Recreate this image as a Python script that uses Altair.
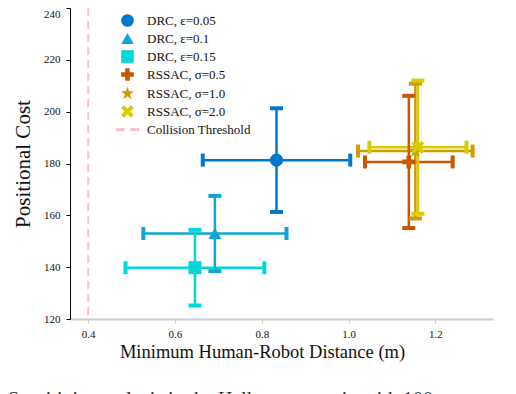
import altair as alt
import pandas as pd

# ---- data ----
series = ["DRC, ε=0.05", "DRC, ε=0.1", "DRC, ε=0.15",
          "RSSAC, σ=0.5", "RSSAC, σ=1.0", "RSSAC, σ=2.0"]
x_mean = [0.834, 0.692, 0.646, 1.139, 1.154, 1.160]
x_err = [0.170, 0.165, 0.160, 0.101, 0.132, 0.112]
y_mean = [181.3, 153.0, 139.8, 180.6, 184.8, 186.3]
y_err = [20.0, 14.5, 14.6, 25.5, 26.0, 25.7]
colors = ["#0077cc", "#11a6cf", "#00d9d9", "#cc5500", "#d09a00", "#d6cc00"]
threshold_label = "Collision Threshold"
threshold_x = [0.4]
threshold_color = "#ffc0cb"
x_ticks = [0.4, 0.6, 0.8, 1.0, 1.2]
y_ticks = [120, 140, 160, 180, 200, 220, 240]
caption = ["Sensitivity analysis in the Hallway scenario with 100"]

PLUS = "M-0.36,-1H0.36V-0.36H1V0.36H0.36V1H-0.36V0.36H-1V-0.36H-0.36Z"
STAR = ("M0,-1.1L0.25,-0.34L1.05,-0.34L0.4,0.13L0.65,0.9L0,0.42"
        "L-0.65,0.9L-0.4,0.13L-1.05,-0.34L-0.25,-0.34Z")
XSHAPE = ("M-1,-0.55L-0.55,-1L0,-0.45L0.55,-1L1,-0.55L0.45,0L1,0.55"
          "L0.55,1L0,0.45L-0.55,1L-1,0.55L-0.45,0Z")
DASH = "M-1.85,-0.22H-0.45V0.22H-1.85Z M0.45,-0.22H1.85V0.22H0.45Z"
shapes = ["circle", "triangle-up", "square", PLUS, STAR, XSHAPE, DASH]

df = pd.DataFrame({
    "series": series, "x": x_mean, "y": y_mean,
    "xlo": [m - e for m, e in zip(x_mean, x_err)],
    "xhi": [m + e for m, e in zip(x_mean, x_err)],
    "ylo": [m - e for m, e in zip(y_mean, y_err)],
    "yhi": [m + e for m, e in zip(y_mean, y_err)],
})

domain = series + [threshold_label]
color_scale = alt.Scale(domain=domain, range=colors + [threshold_color])
shape_scale = alt.Scale(domain=domain, range=shapes)

xs = alt.Scale(domain=[0.358, 1.333], nice=False, zero=False)
ys = alt.Scale(domain=[120, 240], nice=False, zero=False)

legend = alt.Legend(
    orient="none", legendX=51, legendY=6, padding=0, labelOffset=13,
    rowPadding=4, symbolSize=160, symbolStrokeWidth=0, symbolOpacity=1,
    labelFontSize=13, labelFont="Liberation Serif", labelColor="#111")
col = alt.Color("series:N", scale=color_scale, title=None, legend=legend)

X = alt.X("x:Q", scale=xs, axis=alt.Axis(
    values=x_ticks, format=".1f", title="Minimum Human-Robot Distance (m)",
    titleX=192, titleY=38, titleAnchor="start", titleAlign="center",
    titleBaseline="alphabetic", titleFontSize=18.5))
Y = alt.Y("y:Q", scale=ys, axis=alt.Axis(
    values=y_ticks, title="Positional Cost", titleFontSize=21,
    labelBaseline={"condition": {"test": "datum.value >= 240", "value": "top"},
                   "value": "middle"}))

base = alt.Chart(df)

hbar = base.mark_rule(strokeWidth=2.5).encode(
    x=alt.X("xlo:Q", scale=xs), x2="xhi:Q", y=alt.Y("y:Q", scale=ys), color=col)
vbar = base.mark_rule(strokeWidth=2.5).encode(
    x=alt.X("x:Q", scale=xs), y=alt.Y("ylo:Q", scale=ys), y2="yhi:Q", color=col)
cap_top = base.mark_tick(orient="horizontal", size=13, thickness=4, opacity=1).encode(
    x=alt.X("x:Q", scale=xs), y=alt.Y("yhi:Q", scale=ys), color=col)
cap_bot = base.mark_tick(orient="horizontal", size=13, thickness=4, opacity=1).encode(
    x=alt.X("x:Q", scale=xs), y=alt.Y("ylo:Q", scale=ys), color=col)
cap_left = base.mark_tick(orient="vertical", size=13, thickness=4, opacity=1).encode(
    x=alt.X("xlo:Q", scale=xs), y=alt.Y("y:Q", scale=ys), color=col)
cap_right = base.mark_tick(orient="vertical", size=13, thickness=4, opacity=1).encode(
    x=alt.X("xhi:Q", scale=xs), y=alt.Y("y:Q", scale=ys), color=col)

points = base.mark_point(filled=True, opacity=1, size=170, strokeWidth=0).encode(
    x=X, y=Y, color=col,
    shape=alt.Shape("series:N", scale=shape_scale, title=None, legend=legend),
)

thr = alt.Chart(pd.DataFrame({"x": threshold_x})).mark_rule(
    color=threshold_color, strokeWidth=2, strokeDash=[8, 5]).encode(
    x=alt.X("x:Q", scale=xs))

cap_text = alt.Chart(pd.DataFrame({"t": caption})).mark_text(
    align="left", baseline="top", fontSize=20, font="Liberation Serif",
    color="#333").encode(text="t:N", x=alt.value(-62), y=alt.value(382))

chart = alt.layer(thr, hbar, vbar, cap_top, cap_bot, cap_left, cap_right,
                  points, cap_text).properties(
    width=423, height=311,
    autosize=alt.AutoSizeParams(type="none"),
    padding={"left": 62, "top": 0, "right": 15, "bottom": 75},
).configure_view(stroke=None).configure_axis(
    grid=False, labelFont="Liberation Serif", titleFont="Liberation Serif",
    labelFontSize=11, titleFontWeight="normal",
    labelColor="#111", titleColor="#111", tickSize=4,
).configure_axisY(
    domainColor="#000", tickColor="#000", titlePadding=10, labelPadding=6,
).configure_axisX(
    domainColor="#cccccc", tickColor="#cccccc", domainWidth=2, labelPadding=5,
)

chart.save("out.html", embed_options={"renderer": "svg", "actions": False})
